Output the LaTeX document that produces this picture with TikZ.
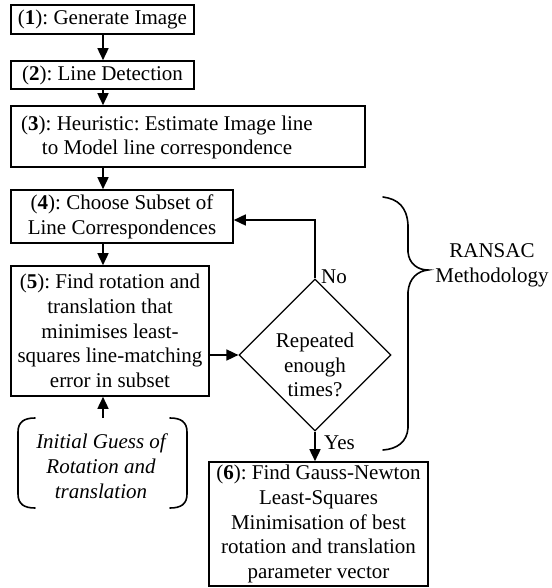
\documentclass[tikz,border=0pt]{standalone}
\usepackage{fontspec}
\setmainfont{Liberation Serif}
\frenchspacing
\usetikzlibrary{shapes.geometric,arrows.meta}
\tikzset{
  txt/.style={font=\fontsize{21}{24.8}\selectfont},
  box/.style={draw,line width=1.6pt,align=center,inner sep=0pt,txt},
  conn/.style={line width=1.6pt,-{Triangle[length=12pt,width=11pt]}},
  lbl/.style={inner sep=0pt,txt,align=center},
  brk/.style={line width=1.6pt,line cap=round}
}
\begin{document}
\begin{tikzpicture}[x=1pt,y=-1pt]
\useasboundingbox (0,0) rectangle (551,588);
\node[box,minimum width=183pt,minimum height=29pt] (b1) at (102.5,19.5) {(\textbf{1}): Generate Image};
\node[box,minimum width=183pt,minimum height=28pt] (b2) at (102.5,75) {(\textbf{2}): Line Detection};
\node[box,minimum width=354pt,minimum height=61pt] (b3) at (188,136.5) {};
\node[lbl] (b3t) at (167,137.5) {(\textbf{3}): Heuristic: Estimate Image line\\to Model line correspondence};
\node[box,minimum width=222pt,minimum height=53pt] (b4) at (122,216.5) {(\textbf{4}): Choose Subset of\\Line Correspondences};
\node[box,minimum width=198pt,minimum height=130pt] (b5) at (110,331) {(\textbf{5}): Find rotation and\\translation that\\minimises least-\\squares line-matching\\error in subset};
\node[box,line width=1.2pt,diamond,minimum width=152pt,minimum height=152pt] (d) at (315,355) {};
\node[lbl] (dt) at (315,365) {Repeated\\enough\\times?};
\node[box,minimum width=219pt,minimum height=124pt] (b6) at (318.5,524) {(\textbf{6}): Find Gauss-Newton\\Least-Squares\\Minimisation of best\\rotation and translation\\parameter vector};
\node[lbl,font=\fontsize{21}{24.8}\selectfont\itshape] (g) at (101,466) {Initial Guess of\\Rotation and\\translation};
\node[lbl] (r) at (492,265) {RANSAC\\Methodology};
\node[lbl,anchor=west] (no) at (321,277) {No};
\node[lbl,anchor=west] (yes) at (324,443) {Yes};
\coordinate (ax) at (103,0);
\draw[conn] (b1.south -| ax) -- (b2.north -| ax);
\draw[conn] (b2.south -| ax) -- (b3.north -| ax);
\draw[conn] (b3.south -| ax) -- (b4.north -| ax);
\draw[conn] (b4.south -| ax) -- (b5.north -| ax);
\draw[conn] (103,418) -- (b5.south -| ax);
\draw[conn] (b5.east |- d.west) -- (d.west);
\draw[conn] (d.north) -- (315,220) -- (b4.east |- 0,220);
\draw[conn] (d.south) -- (b6.north -| d.south);
% brackets around initial guess
\draw[brk] (35,418) .. controls (24,418) and (18,422) .. (18,432) -- (18,494) .. controls (18,504) and (24,508) .. (35,508);
\draw[brk] (170,418) .. controls (181,418) and (187,422) .. (187,432) -- (187,494) .. controls (187,504) and (181,508) .. (170,508);
% RANSAC brace
\draw[brk] (383,197) .. controls (398,199) and (407,207) .. (408,225) -- (408,252) .. controls (409,264) and (418,270) .. (428,270) .. controls (418,271) and (409,278) .. (408,292) -- (408,428) .. controls (407,442) and (397,449) .. (383,450);
\end{tikzpicture}
\end{document}
